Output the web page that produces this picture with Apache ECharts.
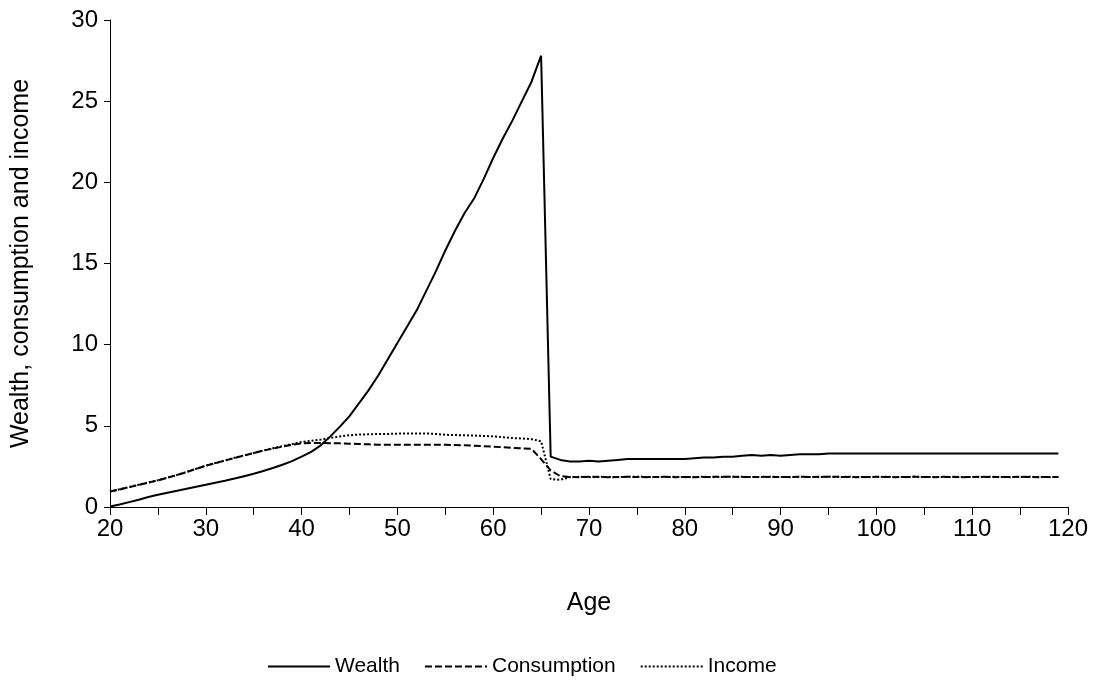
<!DOCTYPE html>
<html>
<head>
<meta charset="utf-8">
<script src="https://cdn.jsdelivr.net/npm/echarts@6/dist/echarts.min.js"></script>
<style>
html,body{margin:0;padding:0;background:#fff;}
#chart{width:1104px;height:685px;}
</style>
</head>
<body>
<div id="chart"></div>
<script>
var ages = [20,21,22,23,24,25,26,27,28,29,30,31,32,33,34,35,36,37,38,39,
40,41,42,43,44,45,46,47,48,49,50,51,52,53,54,55,56,57,58,59,
60,61,62,63,64,65,66,67,68,69,70,71,72,73,74,75,76,77,78,79,
80,81,82,83,84,85,86,87,88,89,90,91,92,93,94,95,96,97,98,99,
100,101,102,103,104,105,106,107,108,109,110,111,112,113,114,115,116,117,118,119];

var wealth = [0.03,0.15,0.3,0.45,0.62,0.76,0.88,1.0,1.13,1.25,
1.37,1.5,1.62,1.75,1.9,2.05,2.22,2.4,2.6,2.83,
3.1,3.4,3.8,4.35,4.95,5.6,6.4,7.2,8.1,9.1,
10.1,11.1,12.1,13.3,14.5,15.8,17.0,18.1,19.0,20.2,
21.5,22.7,23.8,25.0,26.2,27.8,3.1,2.9,2.8,2.8,
2.85,2.8,2.85,2.9,2.95,2.95,2.95,2.95,2.95,2.95,
2.95,3.0,3.05,3.05,3.1,3.1,3.15,3.2,3.15,3.2,
3.15,3.2,3.25,3.25,3.25,3.3,3.3,3.3,3.3,3.3,
3.3,3.3,3.3,3.3,3.3,3.3,3.3,3.3,3.3,3.3,
3.3,3.3,3.3,3.3,3.3,3.3,3.3,3.3,3.3,3.3];

var consumption = [0.95,1.08,1.22,1.36,1.5,1.64,1.8,1.97,2.15,2.35,
2.54,2.7,2.86,3.02,3.17,3.32,3.47,3.6,3.72,3.83,
3.92,3.95,3.95,3.93,3.92,3.9,3.88,3.86,3.84,3.83,
3.83,3.83,3.83,3.83,3.83,3.83,3.82,3.8,3.78,3.75,
3.72,3.68,3.64,3.61,3.58,2.95,2.25,1.9,1.85,1.84,
1.86,1.85,1.83,1.85,1.86,1.85,1.84,1.85,1.86,1.84,
1.85,1.83,1.85,1.86,1.87,1.86,1.85,1.84,1.86,1.85,
1.84,1.85,1.86,1.85,1.86,1.87,1.86,1.85,1.84,1.85,
1.86,1.85,1.84,1.85,1.86,1.85,1.84,1.86,1.85,1.84,
1.85,1.86,1.85,1.84,1.85,1.86,1.85,1.84,1.85,1.85];

var income = [0.95,1.09,1.23,1.37,1.51,1.65,1.81,1.98,2.16,2.36,
2.55,2.71,2.87,3.03,3.18,3.33,3.48,3.62,3.75,3.88,
4.0,4.08,4.15,4.25,4.35,4.42,4.46,4.48,4.5,4.5,
4.52,4.53,4.53,4.53,4.5,4.45,4.43,4.42,4.4,4.38,
4.35,4.3,4.25,4.22,4.18,4.05,1.72,1.68,1.84,1.86,
1.84,1.86,1.85,1.84,1.86,1.87,1.85,1.84,1.85,1.86,
1.84,1.85,1.86,1.84,1.85,1.87,1.86,1.84,1.85,1.86,
1.85,1.84,1.86,1.85,1.84,1.86,1.85,1.86,1.85,1.84,
1.85,1.86,1.85,1.84,1.86,1.85,1.85,1.84,1.86,1.85,
1.84,1.85,1.86,1.85,1.84,1.85,1.86,1.85,1.84,1.85];

var xTicks = [20,30,40,50,60,70,80,90,100,110,120];
var yTicks = [0,5,10,15,20,25,30];

function pairs(vals){ return ages.map(function(a,i){ return [a, vals[i]]; }); }

var FONT = '"Liberation Sans", Arial, sans-serif';
var chart = echarts.init(document.getElementById('chart'), null, {renderer:'canvas'});
chart.setOption({
  backgroundColor:'#fff',
  animation:false,
  grid:{left:110, right:36, top:20, bottom:178, containLabel:false, outerBoundsMode:'none'},
  legend:{
    left:262, top:651,
    itemWidth:62, itemHeight:14, itemGap:24,
    itemStyle:{opacity:0},
    textStyle:{fontFamily:FONT, fontSize:21, color:'#000'},
    data:['Wealth','Consumption','Income']
  },
  xAxis:{
    type:'value', min:20, max:120, interval:5,
    name:'Age', nameLocation:'middle', nameGap:84,
    nameTextStyle:{fontFamily:FONT, fontSize:25, color:'#000'},
    axisLine:{show:true, lineStyle:{color:'#000', width:1}},
    axisTick:{show:true, length:8, inside:false, lineStyle:{color:'#000'}},
    axisLabel:{fontFamily:FONT, fontSize:24, color:'#000', margin:10,
      formatter:function(v){ return xTicks.indexOf(v) >= 0 ? String(v) : ''; }},
    splitLine:{show:false}
  },
  yAxis:{
    type:'value', min:0, max:30, interval:5,
    name:'Wealth, consumption and income', nameLocation:'middle', nameGap:76, nameRotate:90,
    nameTextStyle:{fontFamily:FONT, fontSize:25, color:'#000'},
    axisLine:{show:true, lineStyle:{color:'#000', width:1}},
    axisTick:{show:true, length:6, inside:false, lineStyle:{color:'#000'}},
    axisLabel:{fontFamily:FONT, fontSize:24, color:'#000', margin:12,
      formatter:function(v){ return yTicks.indexOf(v) >= 0 ? String(v) : ''; }},
    splitLine:{show:false}
  },
  series:[
    {name:'Wealth', type:'line', symbol:'none', data:pairs(wealth),
      lineStyle:{color:'#000', width:2, type:'solid'}, itemStyle:{color:'#000'}},
    {name:'Consumption', type:'line', symbol:'none', data:pairs(consumption),
      lineStyle:{color:'#000', width:2, type:[7,3]}, itemStyle:{color:'#000'}},
    {name:'Income', type:'line', symbol:'none', data:pairs(income),
      lineStyle:{color:'#000', width:2, type:[2,2]}, itemStyle:{color:'#000'}}
  ]
});
</script>
</body>
</html>
